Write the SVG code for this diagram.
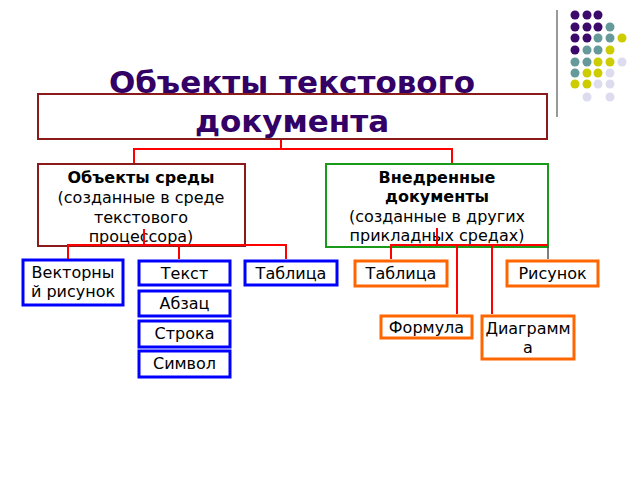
<svg xmlns="http://www.w3.org/2000/svg" width="640" height="480" viewBox="0 0 640 480">
<style>
.t{font-family:"DejaVu Sans","Liberation Sans",sans-serif;font-size:16px;fill:#000;text-anchor:middle}
.b{font-weight:bold}
.title{font-family:"DejaVu Sans","Liberation Sans",sans-serif;font-size:31px;font-weight:bold;fill:#330066;text-anchor:middle}
.red{fill:#fff;stroke:#8b1a1a;stroke-width:2}
.grn{fill:#fff;stroke:#1a9a1a;stroke-width:2}
.blu{fill:#fff;stroke:#0000ff;stroke-width:3}
.org{fill:#fff;stroke:#ff6600;stroke-width:3}
.con{fill:none;stroke:#ff0000;stroke-width:2}
.p{fill:#3b0a6b}.q{fill:#669999}.y{fill:#cccc00}.l{fill:#dcdcee}
</style>
<g id="decor">
<line x1="557" y1="10" x2="557" y2="117" stroke="#999" stroke-width="2"/>
<circle class="p" cx="575" cy="15" r="4.5"/><circle class="p" cx="587" cy="15" r="4.5"/><circle class="p" cx="598" cy="15" r="4.5"/>
<circle class="p" cx="575" cy="27" r="4.5"/><circle class="p" cx="587" cy="27" r="4.5"/><circle class="p" cx="598" cy="27" r="4.5"/><circle class="q" cx="610" cy="27" r="4.5"/>
<circle class="p" cx="575" cy="38" r="4.5"/><circle class="p" cx="587" cy="38" r="4.5"/><circle class="q" cx="598" cy="38" r="4.5"/><circle class="q" cx="610" cy="38" r="4.5"/><circle class="y" cx="622" cy="38" r="4.5"/>
<circle class="p" cx="575" cy="50" r="4.5"/><circle class="q" cx="587" cy="50" r="4.5"/><circle class="q" cx="598" cy="50" r="4.5"/><circle class="y" cx="610" cy="50" r="4.5"/>
<circle class="q" cx="575" cy="62" r="4.5"/><circle class="q" cx="587" cy="62" r="4.5"/><circle class="y" cx="598" cy="62" r="4.5"/><circle class="y" cx="610" cy="62" r="4.5"/><circle class="l" cx="622" cy="62" r="4.5"/>
<circle class="q" cx="575" cy="73" r="4.5"/><circle class="y" cx="587" cy="73" r="4.5"/><circle class="y" cx="598" cy="73" r="4.5"/><circle class="l" cx="610" cy="73" r="4.5"/>
<circle class="y" cx="575" cy="84" r="4.5"/><circle class="y" cx="587" cy="84" r="4.5"/><circle class="l" cx="598" cy="84" r="4.5"/><circle class="l" cx="610" cy="84" r="4.5"/>
<circle class="l" cx="587" cy="97" r="4.5"/><circle class="l" cx="610" cy="97" r="4.5"/>
</g>
<g id="root">
<rect class="red" x="38" y="94" width="509" height="45"/>
<text class="title" x="292" y="93">Объекты текстового</text>
<text class="title" x="292" y="132">документа</text>
</g>
<g id="sreda">
<rect class="red" x="38" y="164" width="207" height="82"/>
<text class="t b" x="141" y="183">Объекты среды</text>
<text class="t" x="141" y="203">(созданные в среде</text>
<text class="t" x="141" y="223">текстового</text>
<text class="t" x="141" y="242">процессора)</text>
</g>
<g id="vnedr">
<rect class="grn" x="326" y="164" width="222" height="83"/>
<text class="t b" x="437" y="183">Внедренные</text>
<text class="t b" x="437" y="202">документы</text>
<text class="t" x="437" y="222">(созданные в других</text>
<text class="t" x="437" y="241">прикладных средах)</text>
</g>
<g id="vector">
<rect class="blu" x="23" y="260" width="100" height="45"/>
<text class="t" x="73" y="278">Векторны</text>
<text class="t" x="73" y="297">й рисунок</text>
</g>
<g id="tekst">
<rect class="blu" x="139" y="261" width="91" height="24"/>
<text class="t" x="184.5" y="279">Текст</text>
</g>
<g id="abzac">
<rect class="blu" x="139" y="291" width="91" height="25"/>
<text class="t" x="184.5" y="309">Абзац</text>
</g>
<g id="stroka">
<rect class="blu" x="139" y="321" width="91" height="26"/>
<text class="t" x="184.5" y="339">Строка</text>
</g>
<g id="simvol">
<rect class="blu" x="139" y="351" width="91" height="26"/>
<text class="t" x="184.5" y="369">Символ</text>
</g>
<g id="tabl1">
<rect class="blu" x="245" y="261" width="92" height="24"/>
<text class="t" x="291" y="279">Таблица</text>
</g>
<g id="tabl2">
<rect class="org" x="355" y="261" width="92" height="25"/>
<text class="t" x="401" y="279">Таблица</text>
</g>
<g id="risunok">
<rect class="org" x="507" y="261" width="91" height="25"/>
<text class="t" x="552.5" y="279">Рисунок</text>
</g>
<g id="formula">
<rect class="org" x="381" y="316" width="91" height="22"/>
<text class="t" x="426.5" y="333">Формула</text>
</g>
<g id="diagr">
<rect class="org" x="482" y="316" width="92" height="43"/>
<text class="t" x="528" y="334">Диаграмм</text>
<text class="t" x="528" y="353">а</text>
</g>
<g id="connectors">
<polyline class="con" points="281,140 281,149"/>
<polyline class="con" points="134,163 134,149 452,149 452,163"/>
<polyline class="con" points="144,229 144,245"/>
<polyline class="con" points="68,259 68,245 286,245 286,259"/>
<polyline class="con" points="179,245 179,259"/>
<polyline class="con" points="437,228 437,245"/>
<polyline class="con" points="391,259 391,245 548,245"/>
<polyline class="con" points="457,245 457,314"/>
<polyline class="con" points="492,245 492,314"/>
<line x1="548" y1="246" x2="548" y2="259" stroke="#555" stroke-width="1.5"/>
</g>
</svg>
